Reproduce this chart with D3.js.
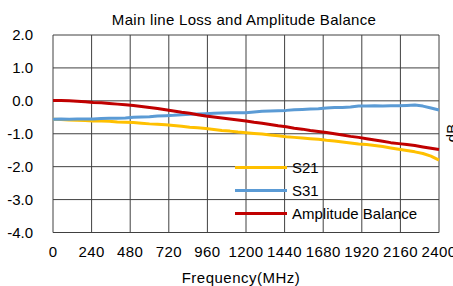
<!DOCTYPE html>
<html><head><meta charset="utf-8">
<script src="https://cdn.jsdelivr.net/npm/d3@7"></script>
<style>body{margin:0;background:#fff}svg{display:block}text{font-family:"Liberation Sans",Arial,sans-serif;fill:#000}</style>
</head><body><svg id="c" width="453" height="286"></svg>
<script>
const freq = [0,50,100,150,200,250,300,350,400,450,500,550,600,650,700,750,800,850,900,950,1000,1050,1100,1150,1200,1250,1300,1350,1400,1450,1500,1550,1600,1650,1700,1750,1800,1850,1900,1950,2000,2050,2100,2150,2200,2250,2300,2350,2400];
const s21 = [-0.56,-0.57,-0.58,-0.59,-0.60,-0.61,-0.61,-0.62,-0.64,-0.65,-0.66,-0.68,-0.70,-0.71,-0.73,-0.75,-0.77,-0.80,-0.82,-0.84,-0.87,-0.90,-0.92,-0.95,-0.97,-0.99,-1.01,-1.04,-1.06,-1.09,-1.11,-1.13,-1.15,-1.17,-1.20,-1.22,-1.25,-1.28,-1.31,-1.33,-1.36,-1.39,-1.43,-1.47,-1.51,-1.55,-1.60,-1.68,-1.80];
const s31 = [-0.56,-0.55,-0.56,-0.55,-0.55,-0.55,-0.54,-0.53,-0.53,-0.52,-0.50,-0.49,-0.48,-0.46,-0.45,-0.44,-0.42,-0.41,-0.40,-0.39,-0.38,-0.37,-0.36,-0.36,-0.36,-0.34,-0.32,-0.31,-0.30,-0.29,-0.27,-0.26,-0.25,-0.24,-0.22,-0.20,-0.20,-0.19,-0.16,-0.16,-0.15,-0.16,-0.15,-0.15,-0.14,-0.13,-0.16,-0.22,-0.28];
const balance = [0.01,0.01,0.00,-0.01,-0.03,-0.05,-0.06,-0.08,-0.10,-0.12,-0.14,-0.17,-0.20,-0.23,-0.27,-0.31,-0.35,-0.38,-0.42,-0.46,-0.49,-0.52,-0.55,-0.58,-0.61,-0.65,-0.68,-0.72,-0.76,-0.79,-0.83,-0.86,-0.90,-0.93,-0.96,-1.00,-1.04,-1.08,-1.11,-1.15,-1.19,-1.23,-1.27,-1.30,-1.33,-1.36,-1.40,-1.44,-1.48];
const xTicks = [0,240,480,720,960,1200,1440,1680,1920,2160,2400];
const yTicks = [2,1,0,-1,-2,-3,-4];
const seriesNames = ["S21","S31","Amplitude Balance"];
const seriesColors = ["#FFC000","#5B9BD5","#C00000"];

const svg = d3.select("#c");
const L=53, R=439, T=35, B=232.5;
const x = d3.scaleLinear().domain([0,2400]).range([L,R]);
const y = d3.scaleLinear().domain([-4,2]).range([B,T]);

const g = svg.append("g");
g.selectAll(".vg").data(xTicks).join("line")
  .attr("x1",d=>x(d)).attr("x2",d=>x(d)).attr("y1",T).attr("y2",B)
  .attr("stroke","#404040").attr("stroke-width",1);
g.selectAll(".hg").data(yTicks).join("line")
  .attr("x1",L).attr("x2",R).attr("y1",d=>y(d)).attr("y2",d=>y(d))
  .attr("stroke","#404040").attr("stroke-width",1);

g.selectAll(".yl").data(yTicks).join("text")
  .attr("x",33).attr("y",d=>y(d)).attr("dy","0.35em").attr("text-anchor","end")
  .attr("font-size",15).text(d=>d.toFixed(1));
g.selectAll(".xl").data(xTicks).join("text")
  .attr("x",d=>x(d)).attr("y",252).attr("dy","0.35em").attr("text-anchor","middle")
  .attr("font-size",15).attr("letter-spacing","0.4px").text(d=>d);

svg.append("text").attr("x",244).attr("y",20).attr("dy","0.35em").attr("text-anchor","middle")
  .attr("font-size",15).attr("letter-spacing","0.3px").text("Main line Loss and Amplitude Balance");
svg.append("text").attr("x",241).attr("y",278).attr("dy","0.35em").attr("text-anchor","middle")
  .attr("font-size",15).attr("letter-spacing","0.5px").text("Frequency(MHz)");
svg.append("text").attr("transform","translate(445,133) rotate(-90)").attr("text-anchor","middle")
  .attr("dy","0.8em").attr("font-size",15).text("dB");

const line = d3.line().x(d=>x(d[0])).y(d=>y(d[1])).curve(d3.curveLinear);
[s21,s31,balance].forEach((vals,i)=>{
  svg.append("path").datum(freq.map((f,j)=>[f,vals[j]]))
    .attr("d",line).attr("fill","none").attr("stroke",seriesColors[i])
    .attr("stroke-width",3).attr("stroke-linejoin","round");
});

const leg = svg.append("g");
seriesNames.forEach((n,i)=>{
  const yy = 167.5 + i*23;
  leg.append("line").attr("x1",235).attr("x2",287).attr("y1",yy).attr("y2",yy)
    .attr("stroke",seriesColors[i]).attr("stroke-width",3);
  leg.append("text").attr("x",292).attr("y",yy).attr("dy","0.35em").attr("font-size",15).text(n);
});
</script></body></html>
